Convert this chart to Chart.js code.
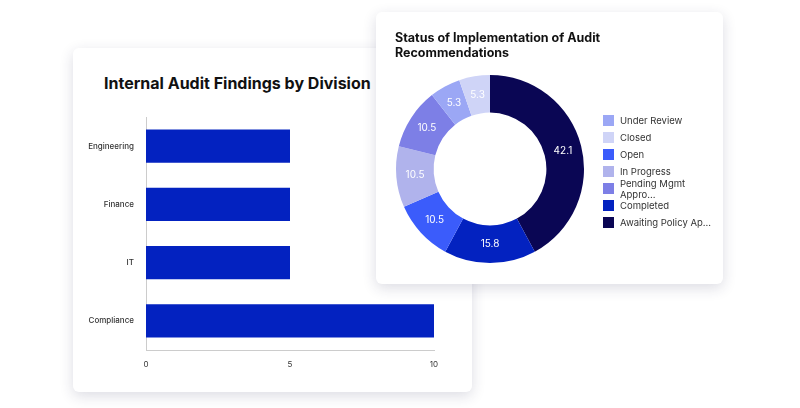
<!DOCTYPE html>
<html>
<head>
<meta charset="utf-8">
<script src="https://cdn.jsdelivr.net/npm/chart.js@4"></script>
<style>
  body { margin: 0; background: #fff; font-family: Inter, sans-serif; }
  .card { position: absolute; background: #fff; border-radius: 6px; box-shadow: 0 4px 14px rgba(40,40,80,0.16); }
  #barCard { left: 73px; top: 48px; width: 399px; height: 344px; z-index: 1; }
  #pieCard { left: 376px; top: 12px; width: 347px; height: 272px; z-index: 2; }
  .title { position: absolute; font-weight: 700; color: #111; }
  #barTitle { left: 31px; top: 25px; font-size: 16px; }
  #pieTitle { left: 19px; top: 18px; font-size: 12.5px; line-height: 15px; width: 260px; }
  #legend { position: absolute; left: 227px; top: 100px; font-size: 9.5px; color: #333; }
  #legend div { height: 17px; display: flex; align-items: center; }
  #legend span { display: inline-block; width: 11px; height: 11px; margin-right: 6px; }
</style>
</head>
<body>
<div class="card" id="barCard">
  <div class="title" id="barTitle">Internal Audit Findings by Division</div>
  <canvas id="bar" style="position:absolute;left:0;top:0"></canvas>
</div>
<div class="card" id="pieCard">
  <div class="title" id="pieTitle">Status of Implementation of Audit Recommendations</div>
  <div style="position:absolute;left:14px;top:57px;width:200px;height:200px"><canvas id="pie"></canvas></div>
  <div id="legend"></div>
</div>
<script>
const divisions = ['Engineering', 'Finance', 'IT', 'Compliance'];
const findings = [5, 5, 5, 10];

const statuses = ['Awaiting Policy Ap...', 'Completed', 'Open', 'In Progress', 'Pending Mgmt Appro...', 'Under Review', 'Closed'];
const shares = [42.1, 15.8, 10.5, 10.5, 10.5, 5.3, 5.3];
const statusColors = ['#0a0654', '#0322c0', '#3b5cfb', '#b0b3ec', '#7d7fe6', '#9ba7f5', '#cfd4f7'];
const legendOrder = ['Under Review', 'Closed', 'Open', 'In Progress', 'Pending Mgmt Appro...', 'Completed', 'Awaiting Policy Ap...'];

const barCanvas = document.getElementById('bar');
barCanvas.width = 399; barCanvas.height = 344;
barCanvas.style.width = '399px'; barCanvas.style.height = '344px';

new Chart(barCanvas, {
  type: 'bar',
  data: {
    labels: divisions,
    datasets: [{ data: findings, backgroundColor: '#0322c0', barPercentage: 0.57, categoryPercentage: 1 }]
  },
  options: {
    indexAxis: 'y',
    responsive: false,
    animation: false,
    layout: { padding: { left: 0, right: 38, top: 69, bottom: 22 } },
    plugins: { legend: { display: false }, tooltip: { enabled: false } },
    scales: {
      x: {
        min: 0, max: 10,
        ticks: { stepSize: 5, color: '#333', font: { size: 8, family: 'Inter' }, padding: 2 },
        grid: { display: false },
        border: { color: '#ccc' },
        afterFit: s => { s.height = 20; }
      },
      y: {
        ticks: { color: '#333', font: { size: 8, family: 'Inter', weight: '500' }, padding: 4 },
        grid: { display: false },
        border: { color: '#ccc' },
        afterFit: s => { s.width = 73; }
      }
    }
  }
});

const sliceLabels = {
  id: 'sliceLabels',
  afterDatasetsDraw(chart) {
    const ctx = chart.ctx;
    const meta = chart.getDatasetMeta(0);
    ctx.save();
    ctx.fillStyle = '#fff';
    ctx.font = '10px Inter';
    ctx.textAlign = 'center';
    ctx.textBaseline = 'middle';
    meta.data.forEach((arc, i) => {
      const p = arc.tooltipPosition();
      ctx.fillText(shares[i].toFixed(1), p.x, p.y);
    });
    ctx.restore();
  }
};

new Chart(document.getElementById('pie'), {
  type: 'doughnut',
  data: {
    labels: statuses,
    datasets: [{ data: shares, backgroundColor: statusColors, borderWidth: 0 }]
  },
  options: {
    responsive: true,
    maintainAspectRatio: false,
    animation: false,
    cutout: '60%',
    layout: { padding: 6 },
    plugins: { legend: { display: false }, tooltip: { enabled: false } }
  },
  plugins: [sliceLabels]
});

const legend = document.getElementById('legend');
legendOrder.forEach(name => {
  const row = document.createElement('div');
  const box = document.createElement('span');
  box.style.background = statusColors[statuses.indexOf(name)];
  row.appendChild(box);
  row.appendChild(document.createTextNode(name));
  legend.appendChild(row);
});
</script>
</body>
</html>
